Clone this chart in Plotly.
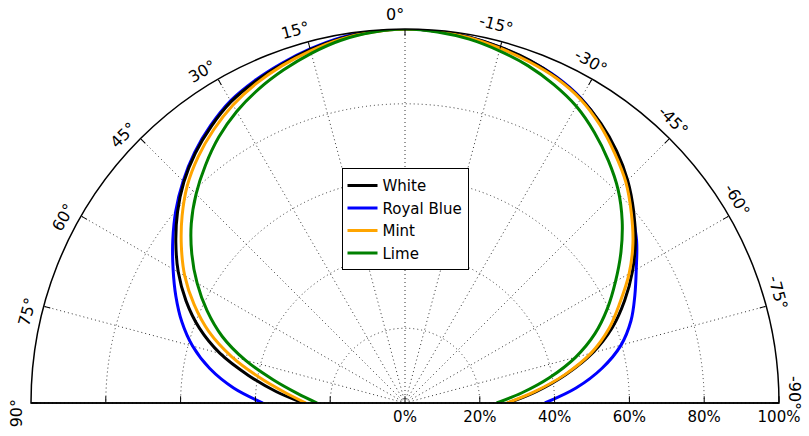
import math
import plotly.graph_objects as go

# Angles (degrees, 0 = straight up, positive to the left)
angles = [-90, -85, -80, -75, -70, -65, -60, -55, -50, -45, -40, -35, -30, -25, -20, -15, -10, -5,
          0, 5, 10, 15, 20, 25, 30, 35, 40, 45, 50, 55, 60, 65, 70, 75, 80, 85, 90]

# Relative intensity (%)
white = [27.5, 35.2, 43.6, 52.0, 59.0, 64.8, 70.2, 75.2, 79.8, 84.2, 88.0, 91.3, 94.0, 96.0, 97.5, 98.5, 99.3, 99.8,
         100.0, 99.7, 99.0, 97.8, 96.3, 94.8, 93.0, 90.3, 87.2, 83.6, 79.4, 74.8, 70.0, 64.6, 58.5, 51.2, 42.5, 34.5, 27.2]
royal_blue = [37.4, 45.9, 53.5, 59.8, 64.3, 67.8, 71.4, 75.6, 79.3, 83.8, 87.5, 91.1, 94.1, 96.1, 97.4, 98.4, 99.3, 99.8,
              100.0, 99.8, 99.2, 98.0, 96.6, 95.1, 93.3, 90.6, 87.5, 83.9, 80.0, 75.8, 71.6, 67.6, 63.5, 58.8, 53.0, 46.0, 38.0]
mint = [27.2, 34.8, 43.3, 51.5, 58.0, 63.4, 69.2, 74.4, 79.0, 83.5, 87.2, 90.8, 93.8, 95.8, 97.1, 98.2, 99.2, 99.8,
        100.0, 99.6, 98.8, 97.5, 96.0, 94.2, 92.0, 89.2, 86.0, 82.3, 77.8, 73.0, 68.0, 62.2, 55.8, 48.0, 39.6, 32.2, 26.5]
lime = [24.5, 31.4, 39.3, 47.2, 54.0, 59.7, 65.0, 70.5, 75.8, 80.6, 84.6, 88.3, 91.6, 94.0, 96.0, 97.5, 98.8, 99.6,
        100.0, 99.5, 98.5, 96.8, 94.8, 92.6, 90.0, 86.8, 83.0, 79.0, 74.6, 69.6, 64.2, 58.4, 52.0, 44.2, 35.8, 28.8, 23.5]

series_names = ["White", "Royal Blue", "Mint", "Lime"]
series_values = [white, royal_blue, mint, lime]
series_colors = ["#000000", "#0000ff", "#ffa500", "#008000"]
draw_order = [1, 0, 2, 3]  # Royal Blue drawn beneath White

angle_ticks = list(range(-90, 91, 15))
radial_ticks = [0, 20, 40, 60, 80, 100]
radial_labels = [f"{v}%" for v in radial_ticks]

FONT = "DejaVu Sans"
GRID_DASH = "1px,3px"

fig = go.Figure()
for i in draw_order:
    fig.add_trace(go.Scatterpolar(
        r=series_values[i], theta=angles, mode="lines", name=series_names[i], subplot="polar",
        legendrank=i + 1,
        line=dict(color=series_colors[i], width=3, shape="spline", smoothing=1.0),
    ))

# invisible trace for the overlay polar (left baseline ticks)
fig.add_trace(go.Scatterpolar(r=[0], theta=[0], mode="markers", marker=dict(opacity=0),
                              showlegend=False, hoverinfo="skip", subplot="polar2"))

common_ang = dict(rotation=90, direction="counterclockwise", thetaunit="degrees")

fig.update_layout(
    width=809, height=436,
    margin=dict(l=31, r=30, t=29, b=33),
    paper_bgcolor="white",
    font=dict(family=FONT, color="black"),
    polar=dict(
        domain=dict(x=[0, 1], y=[0, 1]),
        sector=[0, 180],
        bgcolor="white",
        radialaxis=dict(
            range=[0, 100], angle=0, tickmode="array", tickvals=radial_ticks, ticktext=radial_labels,
            side="clockwise", ticks="inside", ticklen=6, tickwidth=1.2,
            tickcolor="black", showline=True, linecolor="black", linewidth=1.5,
            showgrid=True, gridcolor="#333333", gridwidth=1, griddash=GRID_DASH,
            tickfont=dict(family=FONT, size=15, color="black"),
        ),
        angularaxis=dict(
            **common_ang, tickmode="array", tickvals=angle_ticks, showticklabels=False,
            ticks="inside", ticklen=6, tickwidth=1.2, tickcolor="black",
            showline=True, linecolor="black", linewidth=1.5,
            showgrid=True, gridcolor="#333333", gridwidth=1, griddash=GRID_DASH,
        ),
    ),
    polar2=dict(
        domain=dict(x=[0, 1], y=[0, 1]),
        sector=[0, 180],
        bgcolor="rgba(0,0,0,0)",
        radialaxis=dict(
            range=[0, 100], angle=180, tickmode="array", tickvals=[20, 40, 60, 80],
            showticklabels=False, side="clockwise", ticks="outside", ticklen=6, tickwidth=1.2,
            tickcolor="black", showline=True, linecolor="black", linewidth=1.5, showgrid=False,
        ),
        angularaxis=dict(**common_ang, showline=False, showgrid=False, showticklabels=False, ticks=""),
    ),
    legend=dict(
        x=0.5, y=0.628, xanchor="center", yanchor="top",
        bgcolor="white", bordercolor="black", borderwidth=1,
        font=dict(family=FONT, size=15, color="black"),
        itemwidth=30, tracegroupgap=0, traceorder="normal",
    ),
    showlegend=True,
)

# rotated angular tick labels
annotations = []
for t in angle_ticks:
    phi = math.radians(t + 1.5)
    rho = 1.04
    annotations.append(dict(
        x=0.5 - 0.5 * rho * math.sin(phi), y=rho * math.cos(phi),
        xref="paper", yref="paper", text=f"{t}°", showarrow=False,
        textangle=-t, xanchor="center", yanchor="middle",
        font=dict(family=FONT, size=16, color="black"),
    ))
fig.update_layout(annotations=annotations)

fig.write_html("out.html", config={"displayModeBar": False},
               post_script="document.body.style.margin='0';")
